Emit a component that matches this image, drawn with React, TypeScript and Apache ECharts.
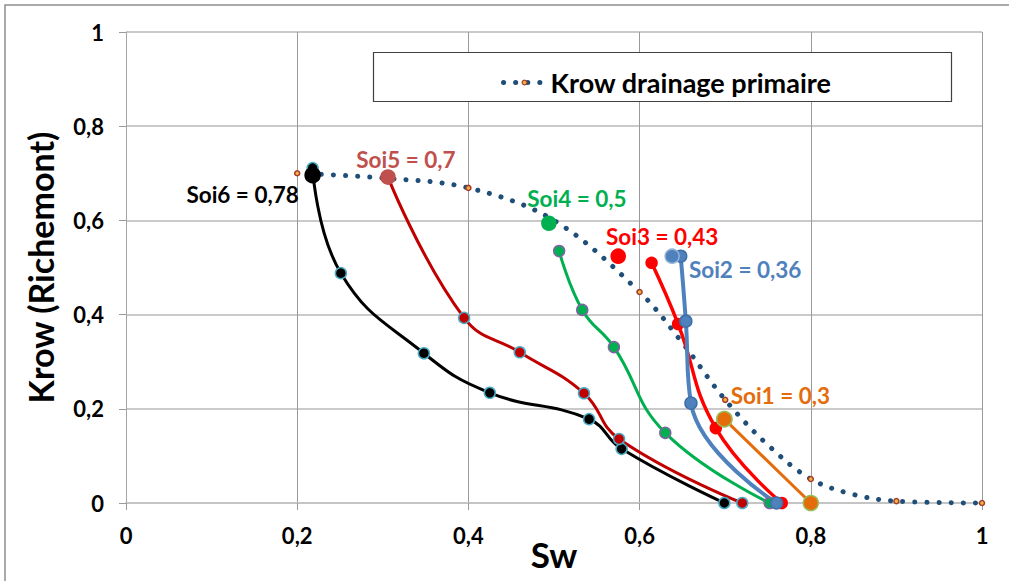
import React, { useEffect, useRef } from "react";
import * as echarts from "echarts";

const FONT = "Lato, 'Liberation Sans', sans-serif";

// Krow drainage primaire (dotted reference curve)
const krowSw = [0.2, 0.3, 0.4, 0.5, 0.6, 0.65, 0.7, 0.75, 0.8, 0.85, 0.9, 1];
const krowKr = [0.7, 0.69, 0.669, 0.6, 0.448, 0.34, 0.219, 0.123, 0.051, 0.018, 0.004, 0];
const krowMarked = [true, false, true, false, true, false, true, false, true, false, true, true];

// Soi curves
const soi6Sw = [0.218, 0.251, 0.348, 0.425, 0.541, 0.579, 0.699];
const soi6Kr = [0.711, 0.488, 0.318, 0.234, 0.178, 0.115, 0];
const soi5Sw = [0.306, 0.395, 0.46, 0.535, 0.576, 0.72];
const soi5Kr = [0.692, 0.393, 0.32, 0.233, 0.136, 0];
const soi4Sw = [0.506, 0.533, 0.57, 0.63, 0.752];
const soi4Kr = [0.535, 0.41, 0.331, 0.149, 0];
const soi3Sw = [0.614, 0.645, 0.689, 0.766];
const soi3Kr = [0.51, 0.38, 0.159, 0];
const soi2Sw = [0.648, 0.654, 0.66, 0.76];
const soi2Kr = [0.524, 0.386, 0.212, 0];
const soi1Sw = [0.699, 0.8];
const soi1Kr = [0.178, 0];

// Soi label points
const soiNames = ["Soi1 = 0,3", "Soi2 = 0,36", "Soi3 = 0,43", "Soi4 = 0,5", "Soi5 = 0,7", "Soi6 = 0,78"];
const soiLabelSw = [0.699, 0.638, 0.575, 0.494, 0.306, 0.218];
const soiLabelKr = [0.178, 0.524, 0.524, 0.594, 0.692, 0.696];

// styles
const soiTextColors = ["#E46C0A", "#4F81BD", "#FF0000", "#00B050", "#C0504D", "#000000"];
const soiMarkerFill = ["#E46C0A", "#4F81BD", "#FF0000", "#00B050", "#C0504D", "#000000"];
const soiMarkerBorder = ["#9BBB59", "#95B3D7", "#FF0000", "#00B050", "#C0504D", "#000000"];
const soiMarkerSize = [15, 14, 14, 14, 14, 15];
const soiLabelOffsets = [
  [56, -24],
  [73, 13],
  [44, -20],
  [28, -25],
  [18, -18],
  [-70, 19],
];

const fmt = (v: number) => String(Number(v.toFixed(2))).replace(".", ",");

function curve(
  name: string,
  sw: number[],
  kr: number[],
  color: string,
  width: number,
  fill: string,
  border: string,
  size: number
) {
  return {
    type: "line",
    name,
    data: sw.map((x, i) => [x, kr[i]]),
    smooth: 0.45,
    symbol: "circle",
    symbolSize: size,
    showAllSymbol: true,
    clip: false,
    z: 3,
    lineStyle: { color, width },
    itemStyle: { color: fill, borderColor: border, borderWidth: 1.5, opacity: 1 },
    emphasis: { disabled: true },
  };
}

export default function App() {
  const ref = useRef<HTMLDivElement>(null);
  useEffect(() => {
    document.body.style.margin = "0";
    const chart = echarts.init(ref.current!, null, { renderer: "svg" });
    const option: any = {
      animation: false,
      textStyle: { fontFamily: FONT },
      grid: {
        left: 126,
        top: 32,
        width: 856,
        height: 471,
        containLabel: false,
        outerBoundsMode: "none",
      },
      graphic: [
        {
          type: "rect",
          silent: true,
          shape: { x: 5, y: 5, width: 1010, height: 600 },
          style: { fill: "none", stroke: "#8E8E8E", lineWidth: 1.5 },
          z: 0,
        },
        {
          type: "rect",
          silent: true,
          shape: { x: 373.5, y: 52.5, width: 578, height: 49 },
          style: { fill: "#ffffff", stroke: "#404040", lineWidth: 1.2 },
          z: 5,
        },
      ],
      legend: {
        data: ["Krow drainage primaire"],
        left: 496,
        top: 64,
        itemWidth: 42,
        itemHeight: 6,
        itemGap: 10,
        selectedMode: false,
        z: 10,
        lineStyle: { width: 5, color: "#1F4E79", type: [0.1, 12], cap: "round" },
        itemStyle: { color: "#F2B33D", borderColor: "#A33B2F", borderWidth: 1.2 },
        textStyle: { fontSize: 27, fontWeight: "bold", color: "#000", fontFamily: FONT },
      },
      xAxis: {
        type: "value",
        min: 0,
        max: 1,
        interval: 0.2,
        name: "Sw",
        nameLocation: "middle",
        nameGap: 33,
        nameMoveOverlap: false,
        nameTextStyle: { fontSize: 35, fontWeight: "bold", color: "#000", fontFamily: FONT },
        axisLine: { show: true, lineStyle: { color: "#C4C4C4", width: 2 } },
        axisTick: { show: true, length: 7, lineStyle: { color: "#9A9A9A" } },
        axisLabel: { margin: 21, fontSize: 22, fontWeight: "bold", color: "#000", formatter: fmt, fontFamily: FONT },
        splitLine: { show: true, lineStyle: { color: "#9A9A9A", width: 1 } },
      },
      yAxis: {
        type: "value",
        min: 0,
        max: 1,
        interval: 0.2,
        name: "Krow (Richemont)",
        nameLocation: "middle",
        nameGap: 69,
        nameMoveOverlap: false,
        nameRotate: 90,
        nameTextStyle: { fontSize: 34, fontWeight: "bold", color: "#000", fontFamily: FONT },
        axisLine: { show: true, lineStyle: { color: "#A6A6A6", width: 1 } },
        axisTick: { show: true, length: 7, lineStyle: { color: "#9A9A9A" } },
        axisLabel: { margin: 22, fontSize: 22, fontWeight: "bold", color: "#000", formatter: fmt, fontFamily: FONT },
        splitLine: { show: true, lineStyle: { color: "#B8B8B8", width: 1.5 } },
      },
      series: [
        {
          type: "line",
          name: "Krow drainage primaire",
          data: krowSw.map((x, i) =>
            krowMarked[i] ? [x, krowKr[i]] : { value: [x, krowKr[i]], symbol: "none" }
          ),
          smooth: 0.35,
          symbol: "circle",
          symbolSize: 5,
          showAllSymbol: true,
          clip: false,
          z: 2,
          lineStyle: { color: "#1F4E79", width: 5, type: [0.1, 12], cap: "round" },
          itemStyle: { color: "#F2B33D", borderColor: "#A33B2F", borderWidth: 1.5 },
          emphasis: { disabled: true },
        },
        curve("Soi6", soi6Sw, soi6Kr, "#000000", 3, "#000000", "#4BACC6", 11),
        curve("Soi5", soi5Sw, soi5Kr, "#C00000", 3, "#C00000", "#4BACC6", 11),
        curve("Soi4", soi4Sw, soi4Kr, "#00B050", 3, "#00B050", "#8064A2", 11),
        curve("Soi3", soi3Sw, soi3Kr, "#FF0000", 3.5, "#FF0000", "#FF0000", 11),
        curve("Soi2", soi2Sw, soi2Kr, "#4F81BD", 4, "#4F81BD", "#3F6FA8", 12),
        curve("Soi1", soi1Sw, soi1Kr, "#E46C0A", 3, "#E46C0A", "#9BBB59", 15),
        {
          type: "scatter",
          name: "Soi",
          clip: false,
          z: 4,
          symbol: "circle",
          itemStyle: { opacity: 1 },
          emphasis: { disabled: true },
          data: soiLabelSw.map((x, i) => ({
            value: [x, soiLabelKr[i]],
            symbolSize: soiMarkerSize[i],
            itemStyle: {
              color: soiMarkerFill[i],
              borderColor: soiMarkerBorder[i],
              borderWidth: 1.5,
              opacity: 1,
            },
            label: {
              show: true,
              position: "inside",
              align: "center",
              verticalAlign: "middle",
              offset: soiLabelOffsets[i],
              formatter: soiNames[i],
              color: soiTextColors[i],
              opacity: 1,
              textBorderWidth: 0,
              textBorderColor: "transparent",
              fontSize: 22.5,
              fontWeight: "bold",
              fontFamily: FONT,
            },
          })),
        },
      ],
    };
    chart.setOption(option);
    return () => chart.dispose();
  }, []);
  return <div ref={ref} style={{ width: 1009, height: 581 }} />;
}
